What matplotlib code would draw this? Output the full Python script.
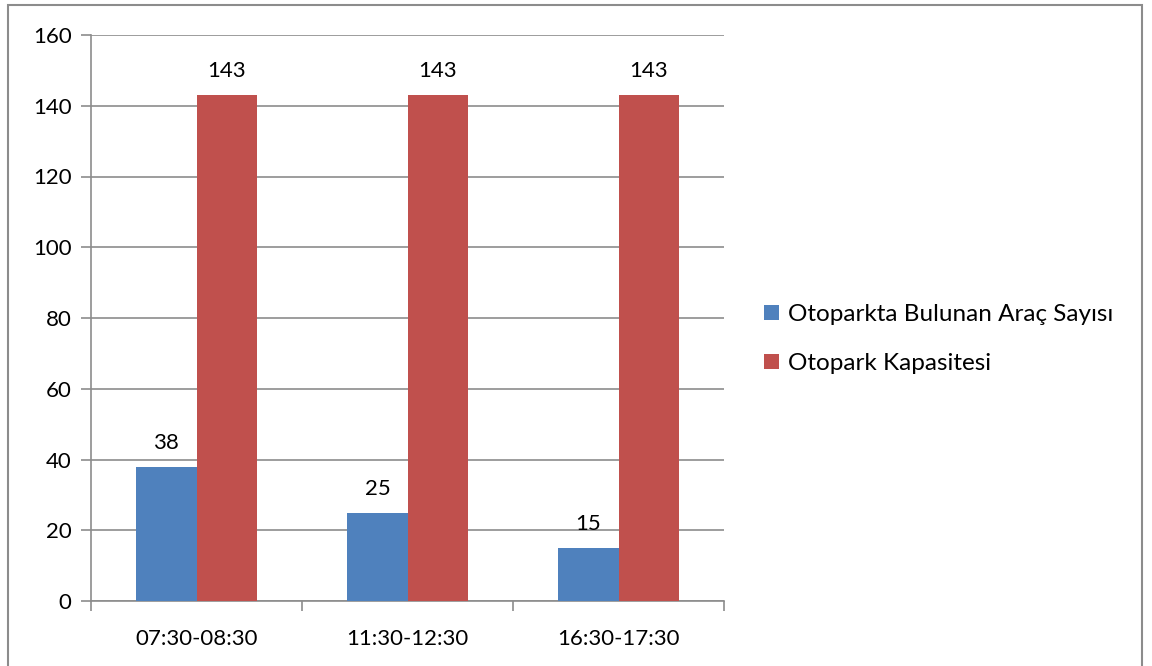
import matplotlib

matplotlib.use("Agg")
import matplotlib.pyplot as plt
import numpy as np
from matplotlib.patches import Rectangle

# time windows and counts
periods = ["07:30-08:30", "11:30-12:30", "16:30-17:30"]
parked_cars = [38, 25, 15]
capacity = [143, 143, 143]
series_names = ["Otoparkta Bulunan Araç Sayısı", "Otopark Kapasitesi"]
y_ticks = [0, 20, 40, 60, 80, 100, 120, 140, 160]

BLUE = "#4f81bd"
RED = "#c0504d"
GRID = "#8c8c8c"
FS = 16

plt.rcParams["font.family"] = ["Lato", "DejaVu Sans"]

fig = plt.figure(figsize=(11.52, 6.66), dpi=100)
ax = fig.add_axes([91 / 1152, 65 / 666, 633 / 1152, 566 / 666])

# outer chart frame
fig.patches.append(Rectangle((8 / 1152, -0.05), 1134 / 1152, 1.05 - 5 / 666,
                             transform=fig.transFigure, fill=False,
                             edgecolor="#8c8c8c", linewidth=1.5))

x = np.arange(len(periods))
w = 0.285
b1 = ax.bar(x - w / 2, parked_cars, w, color=BLUE, label=series_names[0], zorder=3)
b2 = ax.bar(x + w / 2, capacity, w, color=RED, label=series_names[1], zorder=3)

for bars in (b1, b2):
    for rect in bars:
        h = rect.get_height()
        ax.annotate(f"{h:g}", (rect.get_x() + rect.get_width() / 2, h),
                    xytext=(0, 10), textcoords="offset points",
                    ha="center", va="bottom", fontsize=FS)

ax.set_xlim(-0.5, len(periods) - 0.5)
ax.set_ylim(0, 160)
ax.set_yticks(y_ticks)
ax.yaxis.grid(True, color=GRID, linewidth=1.2, zorder=0)
ax.set_axisbelow(True)

# category ticks sit between groups, labels centred under them
ax.set_xticks(np.arange(-0.5, len(periods)), minor=False)
ax.set_xticklabels([])
ax.set_xticks(x, minor=True)
ax.set_xticklabels(periods, minor=True)
ax.tick_params(axis="x", which="major", length=7, color=GRID, width=1.2, direction="out")
ax.tick_params(axis="x", which="minor", length=0, pad=20, labelsize=FS)
ax.tick_params(axis="y", length=7, color=GRID, width=1.2, pad=7, labelsize=FS)

for side in ("top", "right"):
    ax.spines[side].set_visible(False)
for side in ("left", "bottom"):
    ax.spines[side].set_color(GRID)
    ax.spines[side].set_linewidth(1.2)

fig.legend(handles=[b1, b2], labels=series_names, loc="upper left",
           bbox_to_anchor=(764 / 1152, 1 - 304 / 666), frameon=False,
           fontsize=17.5, handlelength=0.6, handleheight=0.6, handletextpad=0.4,
           labelspacing=1.15, borderaxespad=0, borderpad=0)

fig.savefig("out.png", dpi=100)
plt.close(fig)
